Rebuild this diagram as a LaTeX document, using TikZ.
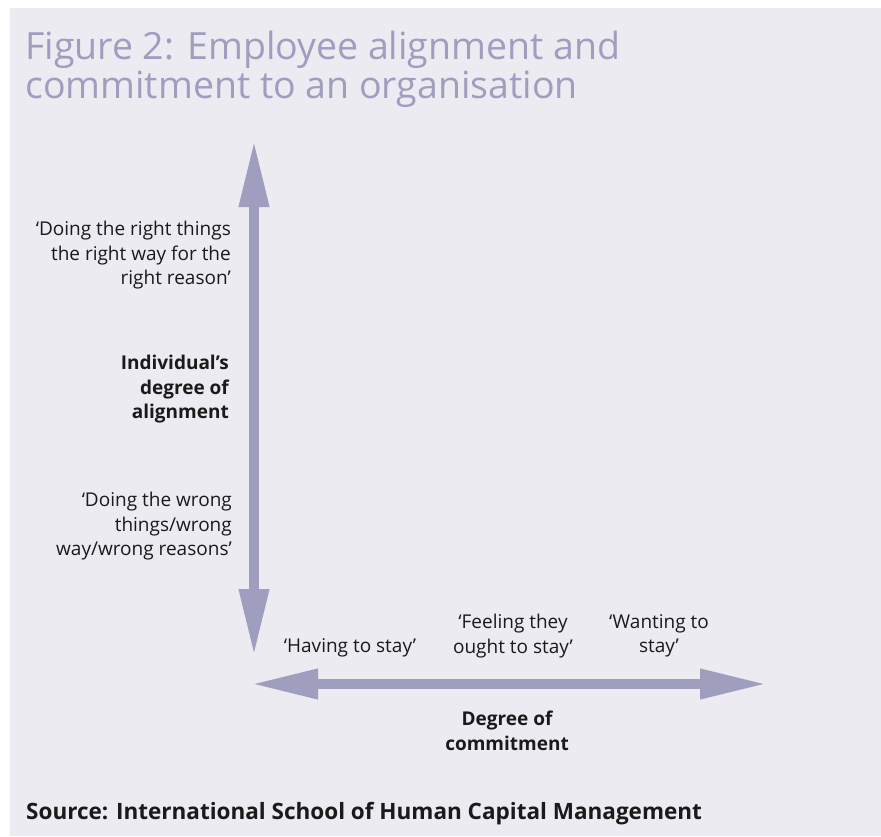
\documentclass[tikz,border=0pt]{standalone}
\usepackage{fontspec}
\setmainfont{Open Sans}
\usetikzlibrary{arrows.meta}
\definecolor{panel}{HTML}{ECEBF1}
\definecolor{lilac}{HTML}{A09EBE}
\definecolor{ink}{HTML}{1A1A1A}
\tikzset{
  axis/.style={lilac, line width=10pt, {Triangle[length=67pt,width=28pt]}-{Triangle[length=67pt,width=28pt]}},
  lbl/.style={inner sep=0pt, text=ink, font=\fontsize{19}{24.5}\selectfont},
  blbl/.style={lbl, font=\fontsize{19}{24.5}\selectfont\bfseries},
}
\begin{document}
\begin{tikzpicture}[x=1pt,y=-1pt]
\useasboundingbox (0,0) rectangle (881,836);
\fill[white] (0,0) rectangle (881,836);
\fill[panel] (10,8) rectangle (881,836);
% title
\node[anchor=north west, inner sep=0pt, text=lilac, align=left,
      font=\fontsize{37.5}{39}\selectfont] (title) at (25,31)
  {Figure 2: Employee alignment and\\commitment to an organisation};
% axes
\coordinate (vtop) at (254,140);
\coordinate (vbot) at (254,656);
\coordinate (hleft) at (251,684);
\coordinate (hright) at (767,684);
\draw[axis] (vbot) -- (vtop);
\draw[axis] (hleft) -- (hright);
% vertical labels
\node[lbl, align=right, anchor=north east] (right) at (231,221)
  {‘Doing the right things\\the right way for the\\right reason’};
\node[blbl, align=right, anchor=north east] (align) at (229,355)
  {Individual’s\\degree of\\alignment};
\node[lbl, align=right, anchor=north east] (wrong) at (232,492)
  {‘Doing the wrong\\things/wrong\\way/wrong reasons’};
% horizontal labels
\node[lbl, anchor=north] (having) at (350,638) {‘Having to stay’};
\node[lbl, align=center, anchor=north] (ought) at (513,614)
  {‘Feeling they\\ought to stay’};
\node[lbl, align=center, anchor=north] (want) at (659,614)
  {‘Wanting to\\stay’};
\node[blbl, align=center, anchor=north] (commit) at (507,711)
  {Degree of\\commitment};
% source
\node[anchor=north west, inner sep=0pt, text=ink,
      font=\fontsize{22.5}{26}\selectfont\bfseries] (source) at (26,802)
  {Source: International School of Human Capital Management};
\end{tikzpicture}
\end{document}
